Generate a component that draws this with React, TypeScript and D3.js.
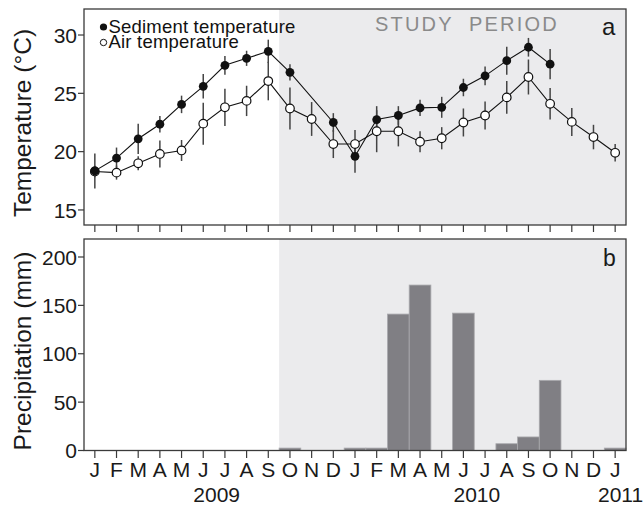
import React from "react";
import * as d3 from "d3";

// month index 0 = Jan 2009 ... 24 = Jan 2011
const monthLabels = ["J", "F", "M", "A", "M", "J", "J", "A", "S", "O", "N", "D",
  "J", "F", "M", "A", "M", "J", "J", "A", "S", "O", "N", "D", "J"];
const yearLabels = [
  { label: "2009", pos: 5.62 },
  { label: "2010", pos: 17.62 },
  { label: "2011", pos: 24.25 },
];

const sedimentMean = [18.35, 19.45, 21.1, 22.35, 24.05, 25.6, 27.4, 28.0, 28.6, 26.8, null, 22.5,
  19.6, 22.75, 23.1, 23.75, 23.8, 25.5, 26.5, 27.8, 28.95, 27.5, null, null, null];
const sedimentErr = [1.5, 0.9, 1.3, 0.7, 0.75, 1.05, 0.8, 0.65, 1.0, 0.7, null, 0.8,
  1.4, 1.15, 0.8, 0.7, 0.9, 0.75, 0.8, 1.2, 0.8, 1.3, null, null, null];

const airMean = [18.3, 18.2, 19.0, 19.8, 20.1, 22.4, 23.8, 24.35, 26.05, 23.7, 22.8, 20.65,
  20.65, 21.75, 21.75, 20.85, 21.15, 22.5, 23.1, 24.65, 26.4, 24.1, 22.55, 21.25, 19.9];
const airErr = [0.5, 0.6, 0.6, 1.15, 0.9, 1.8, 1.6, 1.3, 1.65, 1.8, 1.45, 1.2,
  1.2, 1.8, 1.3, 0.9, 0.95, 1.2, 1.2, 1.4, 1.5, 1.35, 1.2, 1.05, 0.75];

const precipitation = [null, null, null, null, null, null, null, null, null, 2.5, 0, 0,
  2.5, 2.5, 141, 171, 0, 142, 0, 7, 14, 72.5, 0, 0, 2.5];

const tempTicks = [15, 20, 25, 30];
const precipTicks = [0, 50, 100, 150, 200];
const studyStart = 8.5;

const font = "'Liberation Sans', Arial, Helvetica, sans-serif";

export default function App() {
  const width = 643, height = 505;
  const left = 84, right = 626;
  const topA = 9, bottomA = 225;
  const topB = 239, bottomB = 450.5;

  const x = d3.scaleLinear().domain([-0.5, 24.5]).range([left, right]);
  const yT = d3.scaleLinear().domain([13.71, 32.23]).range([bottomA, topA]);
  const yP = d3.scaleLinear().domain([0, 218.6]).range([bottomB, topB]);
  const step = x(1) - x(0);

  const idx = d3.range(monthLabels.length);

  // sediment line skips missing months (joins O 2009 straight to D 2009)
  const sedIdx = idx.filter((i) => sedimentMean[i] != null);
  const sedPath = d3.line<number>().x((i) => x(i)).y((i) => yT(sedimentMean[i] as number))(sedIdx);
  const airPath = d3.line<number>().x((i) => x(i)).y((i) => yT(airMean[i]))(idx);

  const frame = "#3a3a3a";
  const shade = "#ebebed";

  return (
    <svg width={width} height={height} style={{ position: "absolute", left: 0, top: 0 }} fontFamily={font}>
      {/* panel a */}
      <rect x={x(studyStart)} y={topA} width={right - x(studyStart)} height={bottomA - topA} fill={shade} />
      <text x={375} y={31} fontSize={20} fill="#8a8a8a" letterSpacing={2.2} style={{ whiteSpace: "pre" }}>
        {"STUDY  PERIOD"}
      </text>
      <text x={602} y={35} fontSize={24} fill="#1a1a1a">a</text>

      {/* error bars */}
      {idx.map((i) => (
        <line key={"ae" + i} x1={x(i)} x2={x(i)} y1={yT(airMean[i] - airErr[i])} y2={yT(airMean[i] + airErr[i])}
          stroke="#444" strokeWidth={1.5} />
      ))}
      {sedIdx.map((i) => (
        <line key={"se" + i} x1={x(i)} x2={x(i)}
          y1={yT((sedimentMean[i] as number) - (sedimentErr[i] as number))}
          y2={yT((sedimentMean[i] as number) + (sedimentErr[i] as number))}
          stroke="#444" strokeWidth={1.5} />
      ))}
      <path d={airPath || ""} fill="none" stroke="#111" strokeWidth={1.1} />
      <path d={sedPath || ""} fill="none" stroke="#111" strokeWidth={1.1} />
      {idx.map((i) => (
        <circle key={"ac" + i} cx={x(i)} cy={yT(airMean[i])} r={4.3} fill="#fff" stroke="#111" strokeWidth={1.2} />
      ))}
      {sedIdx.map((i) => (
        <circle key={"sc" + i} cx={x(i)} cy={yT(sedimentMean[i] as number)} r={4.4} fill="#111" />
      ))}

      {/* legend */}
      <circle cx={103.5} cy={27} r={3.6} fill="#111" />
      <text x={108.5} y={32.5} fontSize={18.5} fill="#111" letterSpacing={0.2}>Sediment temperature</text>
      <circle cx={103.5} cy={42.5} r={3.2} fill="#fff" stroke="#111" strokeWidth={1} />
      <text x={108.5} y={48} fontSize={18.5} fill="#111" letterSpacing={0.2}>Air temperature</text>

      <rect x={left} y={topA} width={right - left} height={bottomA - topA} fill="none" stroke={frame} strokeWidth={1.3} />
      {tempTicks.map((t) => (
        <g key={"tt" + t}>
          <line x1={left - 6} x2={left} y1={yT(t)} y2={yT(t)} stroke={frame} strokeWidth={1.2} />
          <text x={left - 7} y={yT(t)} dy="0.36em" textAnchor="end" fontSize={21} fill="#1a1a1a">{t}</text>
        </g>
      ))}
      {idx.map((i) => (
        <line key={"xa" + i} x1={x(i)} x2={x(i)} y1={bottomA} y2={bottomA + 7} stroke={frame} strokeWidth={1.2} />
      ))}

      {/* panel b */}
      <rect x={x(studyStart)} y={topB} width={right - x(studyStart)} height={bottomB - topB} fill={shade} />
      {idx.filter((i) => precipitation[i]).map((i) => (
        <rect key={"b" + i} x={x(i) - step / 2} width={step}
          y={yP(precipitation[i] as number)} height={yP(0) - yP(precipitation[i] as number)}
          fill="#807f84" stroke="#a9a9ad" strokeWidth={0.8} />
      ))}
      <text x={603} y={266} fontSize={23} fill="#1a1a1a">b</text>
      <rect x={left} y={topB} width={right - left} height={bottomB - topB} fill="none" stroke={frame} strokeWidth={1.3} />
      {precipTicks.map((t) => (
        <g key={"pt" + t}>
          <line x1={left - 6} x2={left} y1={yP(t)} y2={yP(t)} stroke={frame} strokeWidth={1.2} />
          <text x={left - 7} y={yP(t)} dy="0.36em" textAnchor="end" fontSize={21} fill="#1a1a1a">{t}</text>
        </g>
      ))}
      {idx.map((i) => (
        <g key={"xb" + i}>
          <line x1={x(i)} x2={x(i)} y1={bottomB} y2={bottomB + 7.5} stroke={frame} strokeWidth={1.2} />
          <text x={x(i)} y={477} textAnchor="middle" fontSize={21} fill="#1a1a1a">{monthLabels[i]}</text>
        </g>
      ))}
      {yearLabels.map((yl) => (
        <text key={yl.label} x={x(yl.pos)} y={501.5} textAnchor="middle" fontSize={21} fill="#1a1a1a">{yl.label}</text>
      ))}

      {/* axis titles */}
      <text transform={`translate(31,${(topA + bottomA) / 2 + 6}) rotate(-90)`} textAnchor="middle" fontSize={24.5} fill="#1a1a1a">
        Temperature (°C)
      </text>
      <text transform={`translate(31,${(topB + 455) / 2 + 4}) rotate(-90)`} textAnchor="middle" fontSize={24.5} fill="#1a1a1a">
        Precipitation (mm)
      </text>
    </svg>
  );
}
